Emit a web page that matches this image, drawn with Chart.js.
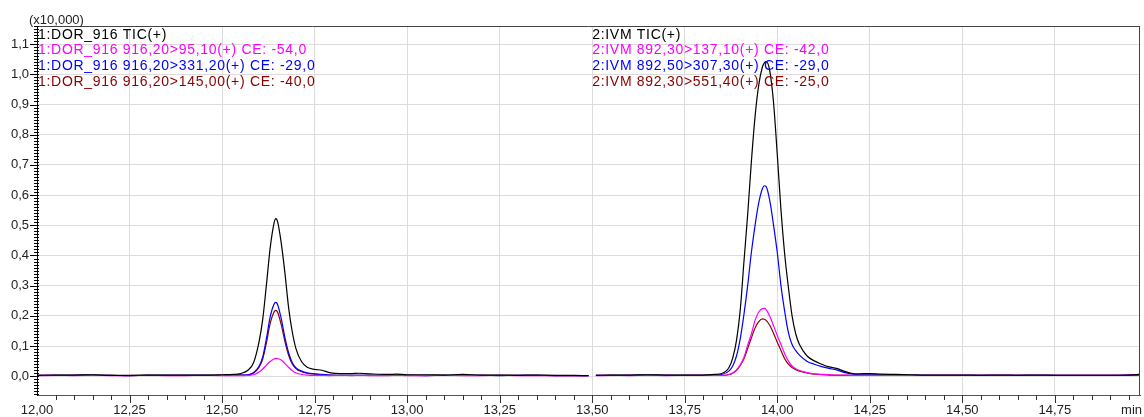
<!DOCTYPE html>
<html>
<head>
<meta charset="utf-8">
<script src="https://cdn.jsdelivr.net/npm/chart.js@4.4.1/dist/chart.umd.min.js"></script>
<style>
    body { margin: 0; background: #fff; }
    #chart { display: block; }
</style>
</head>
<body>
<canvas id="chart" width="1144" height="417"></canvas>
<script>
// retention times (min) for each segment
const dorTime = [12.00, 12.05, 12.10, 12.15, 12.20, 12.25, 12.30, 12.35, 12.40, 12.45, 12.50, 12.53, 12.55, 12.57, 12.585,
    12.60, 12.61, 12.62, 12.63, 12.64, 12.645, 12.65, 12.66, 12.67, 12.68, 12.69, 12.70, 12.715, 12.73, 12.75,
    12.77, 12.79, 12.82, 12.85, 12.87, 12.90, 12.95, 12.97, 13.00, 13.05, 13.10, 13.15, 13.20, 13.25, 13.30,
    13.35, 13.40, 13.45, 13.49];
const dorTic = [0.003, 0.004, 0.004, 0.005, 0.003, 0.003, 0.004, 0.004, 0.004, 0.004, 0.005, 0.006, 0.009, 0.020, 0.045,
    0.115, 0.190, 0.305, 0.425, 0.505, 0.522, 0.512, 0.440, 0.340, 0.225, 0.145, 0.090, 0.048, 0.030, 0.023,
    0.020, 0.012, 0.009, 0.009, 0.010, 0.008, 0.006, 0.007, 0.005, 0.005, 0.004, 0.006, 0.004, 0.004, 0.003,
    0.004, 0.003, 0.003, 0.002];
const dor95 = [0.002, 0.003, 0.002, 0.003, 0.002, 0.002, 0.003, 0.002, 0.002, 0.003, 0.002, 0.002, 0.002, 0.003, 0.005,
    0.014, 0.024, 0.037, 0.049, 0.057, 0.0595, 0.059, 0.054, 0.042, 0.029, 0.018, 0.011, 0.006, 0.004, 0.003,
    0.003, 0.002, 0.003, 0.002, 0.003, 0.002, 0.002, 0.003, 0.002, 0.002, 0.003, 0.002, 0.002, 0.003, 0.002,
    0.002, 0.002, 0.002, 0.002];
const dor331 = [0.003, 0.003, 0.003, 0.004, 0.003, 0.002, 0.003, 0.003, 0.003, 0.003, 0.003, 0.003, 0.004, 0.005, 0.012,
    0.033, 0.065, 0.126, 0.197, 0.238, 0.245, 0.238, 0.190, 0.127, 0.077, 0.044, 0.028, 0.017, 0.011, 0.008,
    0.006, 0.004, 0.003, 0.003, 0.003, 0.003, 0.003, 0.003, 0.003, 0.002, 0.003, 0.003, 0.003, 0.002, 0.003,
    0.003, 0.002, 0.002, 0.002];
const dor145 = [0.003, 0.003, 0.003, 0.003, 0.003, 0.002, 0.003, 0.003, 0.003, 0.003, 0.003, 0.003, 0.004, 0.005, 0.011,
    0.030, 0.058, 0.112, 0.175, 0.212, 0.2185, 0.212, 0.170, 0.114, 0.069, 0.040, 0.025, 0.015, 0.010, 0.007,
    0.005, 0.004, 0.003, 0.003, 0.003, 0.003, 0.003, 0.003, 0.003, 0.003, 0.003, 0.003, 0.003, 0.003, 0.003,
    0.003, 0.002, 0.002, 0.002];

const ivmTime = [13.51, 13.55, 13.60, 13.65, 13.70, 13.75, 13.80, 13.83, 13.85, 13.87, 13.88, 13.89, 13.90, 13.91, 13.92,
    13.93, 13.94, 13.95, 13.96, 13.965, 13.97, 13.98, 13.99, 14.00, 14.01, 14.02, 14.03, 14.04, 14.05, 14.06,
    14.08, 14.10, 14.12, 14.14, 14.16, 14.18, 14.20, 14.22, 14.25, 14.28, 14.32, 14.36, 14.40, 14.45, 14.50,
    14.55, 14.60, 14.65, 14.70, 14.75, 14.80, 14.85, 14.90, 14.95, 14.98];
const ivmTic = [0.003, 0.004, 0.004, 0.005, 0.004, 0.004, 0.004, 0.006, 0.009, 0.030, 0.062, 0.120, 0.220, 0.380, 0.535,
    0.710, 0.860, 0.965, 1.025, 1.038, 1.042, 1.010, 0.905, 0.735, 0.551, 0.405, 0.295, 0.200, 0.140, 0.105,
    0.068, 0.051, 0.040, 0.031, 0.026, 0.017, 0.010, 0.008, 0.009, 0.007, 0.006, 0.005, 0.004, 0.004, 0.004,
    0.003, 0.004, 0.003, 0.004, 0.003, 0.003, 0.003, 0.003, 0.004, 0.006];
const ivm137 = [0.002, 0.003, 0.002, 0.003, 0.002, 0.003, 0.003, 0.003, 0.003, 0.006, 0.011, 0.021, 0.038, 0.062, 0.103,
    0.140, 0.185, 0.213, 0.224, 0.225, 0.221, 0.198, 0.167, 0.135, 0.105, 0.075, 0.050, 0.034, 0.025, 0.019,
    0.012, 0.008, 0.006, 0.005, 0.004, 0.004, 0.003, 0.003, 0.003, 0.003, 0.003, 0.003, 0.003, 0.003, 0.003,
    0.003, 0.003, 0.003, 0.003, 0.003, 0.003, 0.003, 0.003, 0.004, 0.006];
const ivm307 = [0.003, 0.003, 0.003, 0.004, 0.003, 0.003, 0.003, 0.004, 0.006, 0.018, 0.035, 0.068, 0.125, 0.205, 0.300,
    0.410, 0.500, 0.575, 0.622, 0.631, 0.628, 0.580, 0.500, 0.410, 0.300, 0.215, 0.145, 0.105, 0.085, 0.070,
    0.050, 0.040, 0.032, 0.026, 0.021, 0.013, 0.008, 0.005, 0.005, 0.004, 0.003, 0.003, 0.003, 0.003, 0.003,
    0.003, 0.003, 0.003, 0.003, 0.003, 0.003, 0.003, 0.003, 0.004, 0.005];
const ivm551 = [0.003, 0.003, 0.003, 0.003, 0.003, 0.003, 0.003, 0.003, 0.003, 0.006, 0.011, 0.020, 0.036, 0.058, 0.092,
    0.127, 0.160, 0.181, 0.190, 0.189, 0.185, 0.168, 0.142, 0.113, 0.085, 0.058, 0.040, 0.029, 0.022, 0.017,
    0.011, 0.007, 0.005, 0.004, 0.003, 0.003, 0.003, 0.003, 0.003, 0.003, 0.003, 0.003, 0.003, 0.003, 0.003,
    0.003, 0.003, 0.003, 0.003, 0.003, 0.003, 0.003, 0.003, 0.003, 0.004];

const xTicks = [12.00, 12.25, 12.50, 12.75, 13.00, 13.25, 13.50, 13.75, 14.00, 14.25, 14.50, 14.75];
const yTicks = [0.0, 0.1, 0.2, 0.3, 0.4, 0.5, 0.6, 0.7, 0.8, 0.9, 1.0, 1.1];

const dorLabels = [
    ["1:DOR_916 TIC(+)", "#000000"],
    ["1:DOR_916 916,20>95,10(+) CE: -54,0", "#ff00ff"],
    ["1:DOR_916 916,20>331,20(+) CE: -29,0", "#0000ff"],
    ["1:DOR_916 916,20>145,00(+) CE: -40,0", "#8b0000"]
];
const ivmLabels = [
    ["2:IVM TIC(+)", "#000000"],
    ["2:IVM 892,30>137,10(+) CE: -42,0", "#ff00ff"],
    ["2:IVM 892,50>307,30(+) CE: -29,0", "#0000ff"],
    ["2:IVM 892,30>551,40(+) CE: -25,0", "#8b0000"]
];

const FONT = "Liberation Sans, Arial, sans-serif";

function trace(times, values, color) {
    return {
        data: times.map((t, i) => ({ x: t, y: values[i] })),
        borderColor: color,
        borderWidth: 1.2,
        pointRadius: 0,
        fill: false,
        cubicInterpolationMode: "monotone"
    };
}

// first dataset ends up on top
const datasets = [
    trace(dorTime, dorTic, "#000000"),
    trace(ivmTime, ivmTic, "#000000"),
    trace(dorTime, dor95, "#ff00ff"),
    trace(ivmTime, ivm137, "#ff00ff"),
    trace(dorTime, dor331, "#0000ff"),
    trace(ivmTime, ivm307, "#0000ff"),
    trace(dorTime, dor145, "#8b0000"),
    trace(ivmTime, ivm551, "#8b0000")
];

const decor = {
    id: "decor",
    afterDraw(chart) {
        const { ctx, chartArea: a, scales } = chart;
        const x = scales.x, y = scales.y;
        ctx.save();

        // top and right frame
        ctx.strokeStyle = "#444";
        ctx.lineWidth = 1;
        ctx.beginPath();
        ctx.moveTo(a.left, a.top + 0.5);
        ctx.lineTo(a.right, a.top + 0.5);
        ctx.moveTo(a.right - 0.5, a.top);
        ctx.lineTo(a.right - 0.5, a.bottom);
        ctx.stroke();

        // y tick marks, minor every 0.01
        ctx.strokeStyle = "#000";
        ctx.beginPath();
        for (let i = -6; i <= 116; i++) {
            const py = Math.round(y.getPixelForValue(i / 100)) + 0.5;
            if (i % 10 === 0) {
                ctx.moveTo(a.left - 7, py);
                ctx.lineTo(a.left + 2, py);
            } else {
                ctx.moveTo(a.left - 3, py);
                ctx.lineTo(a.left + 2, py);
            }
        }
        ctx.stroke();

        // x tick marks, minor every 0.05
        ctx.strokeStyle = "#333";
        ctx.beginPath();
        for (let i = 1; i < 60; i++) {
            const px = Math.round(x.getPixelForValue(12 + i * 0.05)) + 0.5;
            if (px > a.right) break;
            ctx.moveTo(px, a.bottom);
            ctx.lineTo(px, a.bottom + (i % 5 === 0 ? 8 : 5));
        }
        ctx.stroke();

        ctx.font = "13px " + FONT;
        ctx.fillStyle = "#222";
        ctx.textBaseline = "alphabetic";
        ctx.textAlign = "left";
        ctx.fillText("(x10,000)", 29, 24);
        ctx.textAlign = "right";
        ctx.textBaseline = "middle";
        ctx.fillText("min", a.right + 2, 410);

        // trace labels
        ctx.font = "14px " + FONT;
        ctx.textAlign = "left";
        ctx.textBaseline = "alphabetic";
        ctx.letterSpacing = "0.7px";
        const rightX = x.getPixelForValue(13.5);
        dorLabels.forEach((lab, i) => {
            ctx.fillStyle = lab[1];
            ctx.fillText(lab[0], a.left + 1, a.top + 12.5 + i * 15.9);
        });
        ivmLabels.forEach((lab, i) => {
            ctx.fillStyle = lab[1];
            ctx.fillText(lab[0], rightX, a.top + 12.5 + i * 15.9);
        });
        ctx.restore();
    }
};

new Chart(document.getElementById("chart").getContext("2d"), {
    type: "line",
    data: { datasets },
    plugins: [decor],
    options: {
        responsive: false,
        animation: false,
        events: [],
        layout: { padding: { top: 26, right: 4, left: 0, bottom: 0 } },
        plugins: { legend: { display: false }, tooltip: { enabled: false } },
        scales: {
            x: {
                type: "linear",
                min: 12,
                max: 14.98,
                afterBuildTicks: s => { s.ticks = xTicks.map(v => ({ value: v })); },
                afterFit: s => { s.height = 22; },
                grid: { color: "#dcdcdc", drawTicks: false },
                border: { color: "#555" },
                ticks: {
                    autoSkip: false,
                    maxRotation: 0,
                    padding: 8,
                    color: "#222",
                    font: { family: FONT, size: 13 },
                    callback: v => v.toFixed(2).replace(".", ",")
                }
            },
            y: {
                min: -0.062,
                max: 1.16,
                afterBuildTicks: s => { s.ticks = yTicks.map(v => ({ value: v })); },
                afterFit: s => { s.width = 37; },
                grid: { color: "#dcdcdc", drawTicks: false },
                border: { color: "#000" },
                ticks: {
                    padding: 8,
                    color: "#222",
                    font: { family: FONT, size: 13 },
                    callback: v => v.toFixed(1).replace(".", ",")
                }
            }
        }
    }
});
</script>
</body>
</html>
